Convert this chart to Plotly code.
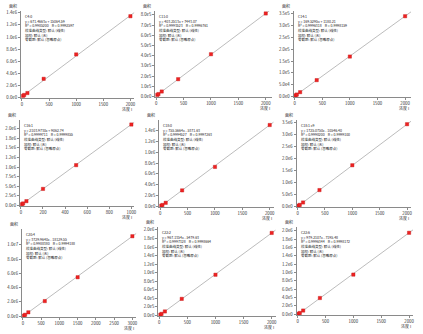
import plotly.graph_objects as go

# Calibration curves for nine fatty acid methyl esters
compounds = ["C4:0", "C11:0", "C14:1", "C16:1", "C18:0", "C18:1 c9", "C20:4", "C22:2", "C22:6"]
slopes = [671.4663, 403.2513, 169.5295, 2103.973, 755.5664, 1725.075, 3729.964, 967.1354, 979.2107]
intercepts = [15064.59, 7443.067, 1180.213, 9062.739, -5371.631, -10546.40, -18129.55, -5479.627, -7195.475]
r_squared = ["0.9985200", "0.9993523", "0.9996318", "0.9999711", "0.9994527",
             "0.9998200", "0.9988380", "0.9997328", "0.9996344"]
r_values = ["0.9992597", "0.9996761", "0.9998159", "0.9999855", "0.9997263",
            "0.9999100", "0.9994188", "0.9998664", "0.9998172"]

conc_std = [20, 40, 100, 400, 1000, 2000]
conc_low = [10, 20, 50, 200, 500, 1000]
conc_high = [30, 60, 150, 600, 1500, 3000]

area_c4_0 = [26000, 40000, 72000, 308000, 712000, 1345000]
area_c11_0 = [15000, 23000, 48000, 169000, 414000, 814000]
area_c14_1 = [4500, 8000, 18000, 69000, 169000, 340000]
area_c16_1 = [30000, 50000, 110000, 430000, 1050000, 2110000]
area_c18_0 = [12000, 25000, 65000, 295000, 730000, 1506000]
area_c18_1 = [28000, 60000, 160000, 680000, 1720000, 3440000]
area_c20_4 = [90000, 210000, 550000, 2120000, 5450000, 11180000]
area_c22_2 = [15000, 33000, 90000, 385000, 950000, 1930000]
area_c22_6 = [14000, 32000, 90000, 390000, 950000, 1950000]

concentrations = [conc_std, conc_std, conc_std, conc_low, conc_std, conc_std, conc_high, conc_std, conc_std]
areas = [area_c4_0, area_c11_0, area_c14_1, area_c16_1, area_c18_0, area_c18_1,
         area_c20_4, area_c22_2, area_c22_6]

x_ticks = [
    [0, 500, 1000, 1500, 2000], [0, 500, 1000, 1500, 2000], [0, 500, 1000, 1500, 2000],
    [0, 200, 400, 600, 800, 1000], [0, 500, 1000, 1500, 2000], [0, 500, 1000, 1500, 2000],
    [0, 500, 1000, 1500, 2000, 2500, 3000], [0, 500, 1000, 1500, 2000], [0, 500, 1000, 1500, 2000],
]
y_ticks = [
    [i * 2e5 for i in range(8)],
    [i * 1e5 for i in range(9)],
    [i * 5e4 for i in range(8)],
    [i * 2.5e5 for i in range(9)],
    [i * 2e5 for i in range(8)],
    [i * 5e5 for i in range(8)],
    [i * 2e6 for i in range(6)],
    [i * 2e5 for i in range(11)],
    [i * 2e5 for i in range(11)],
]

y_title = "面积"
x_title = "浓度 I"
method_lines = ["校准曲线类型: 默认 (线性)", "加权: 默认 (无)", "零截距: 默认 (忽略原点)"]

# Panel geometry in pixels: left, right, top, bottom
W, H = 423, 334
boxes = [
    (21, 135, 10, 98), (156, 273, 10, 97), (295, 413, 10, 97),
    (20, 135, 120, 207), (160, 275, 120, 208), (298, 413, 120, 208),
    (22, 137, 230, 319), (159, 277, 228, 318), (298, 415, 228, 317),
]
x_ranges = [
    (-20, 2073), (-18, 2109), (-18, 2108),
    (-9, 1027), (-18, 2073), (-18, 2073),
    (-27, 3109), (-18, 2071), (-18, 2071),
]
y_ranges = [
    (-12000, 1.433e6), (-7000, 8.39e5), (-3000, 3.625e5),
    (-20000, 2.23e6), (-15000, 1.6e6), (-35000, 3.62e6),
    (-120000, 1.22e7), (-20000, 2.07e6), (-20000, 2.09e6),
]


def sci(v):
    if v == 0:
        return "0.0e0"
    s = f"{v:.1e}"
    mant, exp = s.split("e")
    return f"{mant}e{int(exp)}"


def px_x(p):
    return p / W


def px_y(p):
    return 1 - p / H


FONT = "Noto Sans CJK SC, Noto Sans, DejaVu Sans"
AXIS_COL = "#8a8a8a"
TEXT_COL = "#333333"

fig = go.Figure()
layout = dict(
    width=W, height=H, margin=dict(l=0, r=0, t=0, b=0),
    paper_bgcolor="white", plot_bgcolor="white", showlegend=False,
    font=dict(family=FONT, size=4, color=TEXT_COL),
)
annotations = []

for i in range(9):
    k = "" if i == 0 else str(i + 1)
    left, right, top, bottom = boxes[i]
    xr, yr = x_ranges[i], y_ranges[i]

    # fitted line from the stated equation
    fig.add_trace(go.Scatter(
        x=[0, xr[1]], y=[intercepts[i], slopes[i] * xr[1] + intercepts[i]],
        mode="lines", line=dict(color="#ababab", width=0.8),
        xaxis="x" + k, yaxis="y" + k, hoverinfo="skip",
    ))
    # calibration standards
    fig.add_trace(go.Scatter(
        x=concentrations[i], y=areas[i], mode="markers",
        marker=dict(symbol="square", size=3.3, color="#ee2222",
                    line=dict(color="#c41414", width=0.4)),
        xaxis="x" + k, yaxis="y" + k, cliponaxis=False,
    ))

    layout["xaxis" + k] = dict(
        domain=[px_x(left), px_x(right)], anchor="y" + k, range=list(xr),
        tickvals=x_ticks[i], ticktext=[str(v) for v in x_ticks[i]],
        showline=True, linecolor=AXIS_COL, linewidth=1, ticks="outside",
        ticklen=2, tickcolor=AXIS_COL, showgrid=False, zeroline=False,
        tickfont=dict(size=4.3, color=TEXT_COL),
    )
    layout["yaxis" + k] = dict(
        domain=[px_y(bottom), px_y(top)], anchor="x" + k, range=list(yr),
        tickvals=y_ticks[i], ticktext=[sci(v) for v in y_ticks[i]],
        showline=True, linecolor=AXIS_COL, linewidth=1, ticks="outside",
        ticklen=2, tickcolor=AXIS_COL, showgrid=False, zeroline=False,
        tickfont=dict(size=4.3, color=TEXT_COL),
    )

    sign = "+" if intercepts[i] >= 0 else "-"
    eq_block = (f"{compounds[i]}<br>"
                f"y = {slopes[i]:.4f}x {sign} {abs(intercepts[i]):.2f}<br>"
                f"R² = {r_squared[i]}    R = {r_values[i]}")
    annotations.append(dict(
        text=eq_block, xref="paper", yref="paper",
        x=px_x(left + 2), y=px_y(top + 1), xanchor="left", yanchor="top",
        showarrow=False, align="left", font=dict(size=3.5, color="#222222"),
    ))
    annotations.append(dict(
        text="<br>".join(method_lines), xref="paper", yref="paper",
        x=px_x(left + 2), y=px_y(top + 15), xanchor="left", yanchor="top",
        showarrow=False, align="left", font=dict(size=3.5, color="#222222"),
    ))
    annotations.append(dict(
        text=y_title, xref="paper", yref="paper",
        x=px_x(left - 8), y=px_y(top - 5), xanchor="center", yanchor="middle",
        showarrow=False, font=dict(size=4, color=TEXT_COL),
    ))
    annotations.append(dict(
        text=x_title, xref="paper", yref="paper",
        x=px_x(right), y=px_y(bottom + 11), xanchor="right", yanchor="middle",
        showarrow=False, font=dict(size=4, color=TEXT_COL),
    ))

layout["annotations"] = annotations
fig.update_layout(**layout)
fig.write_html("out.html")
